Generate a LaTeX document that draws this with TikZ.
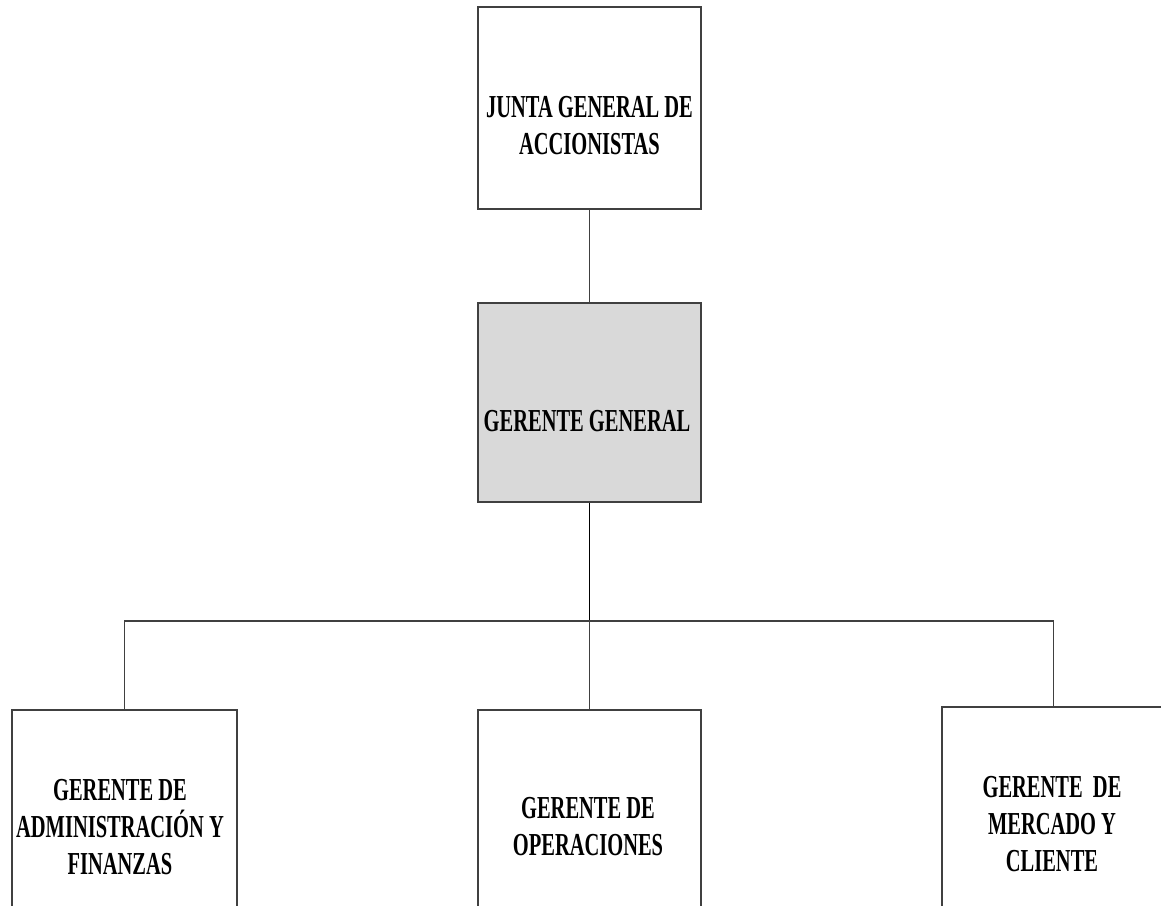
\documentclass[tikz,border=0pt]{standalone}
\usepackage{fontspec}
\newfontfamily\orgfont{Liberation Serif}[FakeStretch=0.64]
\begin{document}
\begin{tikzpicture}[x=1pt,y=-1pt,
  orgbox/.style={draw=black!75, line width=1.4pt, minimum width=223pt, minimum height=202pt, inner sep=0pt, fill=white},
  orgtext/.style={align=center, inner sep=0pt, font=\orgfont\bfseries\fontsize{32}{37}\selectfont},
  link/.style={draw=black!75, line width=1.4pt}]
\useasboundingbox (0,0) rectangle (1161,905);
\clip (0,0) rectangle (1161,905);

% boxes
\node[orgbox] (junta) at (589.5,108) {};
\node[orgbox, fill=black!15, minimum height=199pt] (gg) at (589.5,402.5) {};
\node[orgbox, minimum width=225pt] (adm) at (124.5,811) {};
\node[orgbox] (ope) at (589.5,811) {};
\node[orgbox] (mer) at (1053.5,808) {};

% labels
\node[orgtext] (tjunta) at (589.5,126) {JUNTA GENERAL DE\\ACCIONISTAS};
\node[orgtext] (tgg) at (587,421) {GERENTE GENERAL};
\node[orgtext] (tadm) at (120,827.5) {GERENTE DE\\ADMINISTRACIÓN Y\\FINANZAS};
\node[orgtext] (tope) at (588,827) {GERENTE DE\\OPERACIONES};
\node[orgtext] (tmer) at (1052,824) {GERENTE~ DE\\MERCADO Y\\CLIENTE};

% connectors
\coordinate (bus) at (589.5,621);
\draw[link] (junta.south) -- (gg.north);
\draw[link, draw=black, line width=1.8pt] (gg.south) -- (bus);
\draw[link] (adm.north) |- (bus) -| (mer.north);
\draw[link] (bus) -- (ope.north);
\end{tikzpicture}
\end{document}
